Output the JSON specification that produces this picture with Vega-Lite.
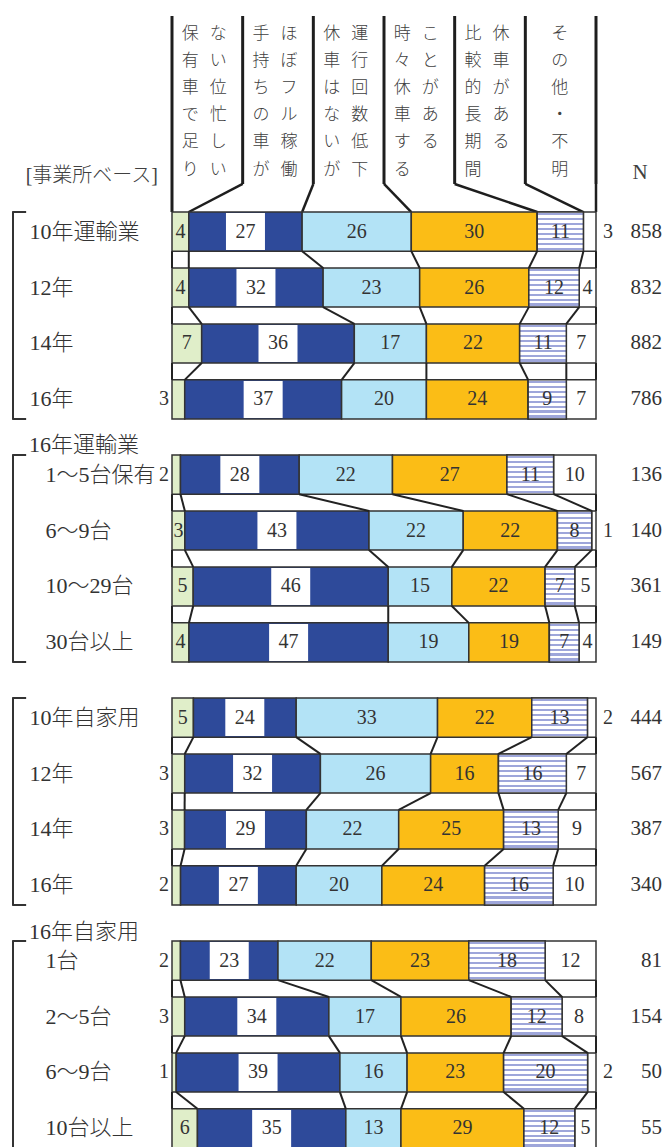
{
  "$schema": "https://vega.github.io/schema/vega-lite/v6.json",
  "background": "white",
  "padding": {"left": 11, "top": 14, "right": 4, "bottom": 0},
  "bounds": "flush",
  "spacing": 36,
  "config": {"view": {"stroke": null}, "axis": {"labelFontWeight": 300}, "text": {"fontWeight": 300}},
  "datasets": {
    "bars": [
      {"g":1,"i":1,"row":"10年運輸業","cat":1,"v":4},{"g":1,"i":1,"row":"10年運輸業","cat":2,"v":27},{"g":1,"i":1,"row":"10年運輸業","cat":3,"v":26},{"g":1,"i":1,"row":"10年運輸業","cat":4,"v":30},{"g":1,"i":1,"row":"10年運輸業","cat":5,"v":11},{"g":1,"i":1,"row":"10年運輸業","cat":6,"v":3},
      {"g":1,"i":2,"row":"12年","cat":1,"v":4},{"g":1,"i":2,"row":"12年","cat":2,"v":32},{"g":1,"i":2,"row":"12年","cat":3,"v":23},{"g":1,"i":2,"row":"12年","cat":4,"v":26},{"g":1,"i":2,"row":"12年","cat":5,"v":12},{"g":1,"i":2,"row":"12年","cat":6,"v":4},
      {"g":1,"i":3,"row":"14年","cat":1,"v":7},{"g":1,"i":3,"row":"14年","cat":2,"v":36},{"g":1,"i":3,"row":"14年","cat":3,"v":17},{"g":1,"i":3,"row":"14年","cat":4,"v":22},{"g":1,"i":3,"row":"14年","cat":5,"v":11},{"g":1,"i":3,"row":"14年","cat":6,"v":7},
      {"g":1,"i":4,"row":"16年","cat":1,"v":3},{"g":1,"i":4,"row":"16年","cat":2,"v":37},{"g":1,"i":4,"row":"16年","cat":3,"v":20},{"g":1,"i":4,"row":"16年","cat":4,"v":24},{"g":1,"i":4,"row":"16年","cat":5,"v":9},{"g":1,"i":4,"row":"16年","cat":6,"v":7},
      {"g":2,"i":1,"row":"1～5台保有","cat":1,"v":2},{"g":2,"i":1,"row":"1～5台保有","cat":2,"v":28},{"g":2,"i":1,"row":"1～5台保有","cat":3,"v":22},{"g":2,"i":1,"row":"1～5台保有","cat":4,"v":27},{"g":2,"i":1,"row":"1～5台保有","cat":5,"v":11},{"g":2,"i":1,"row":"1～5台保有","cat":6,"v":10},
      {"g":2,"i":2,"row":"6～9台","cat":1,"v":3},{"g":2,"i":2,"row":"6～9台","cat":2,"v":43},{"g":2,"i":2,"row":"6～9台","cat":3,"v":22},{"g":2,"i":2,"row":"6～9台","cat":4,"v":22},{"g":2,"i":2,"row":"6～9台","cat":5,"v":8},{"g":2,"i":2,"row":"6～9台","cat":6,"v":1},
      {"g":2,"i":3,"row":"10～29台","cat":1,"v":5},{"g":2,"i":3,"row":"10～29台","cat":2,"v":46},{"g":2,"i":3,"row":"10～29台","cat":3,"v":15},{"g":2,"i":3,"row":"10～29台","cat":4,"v":22},{"g":2,"i":3,"row":"10～29台","cat":5,"v":7},{"g":2,"i":3,"row":"10～29台","cat":6,"v":5},
      {"g":2,"i":4,"row":"30台以上","cat":1,"v":4},{"g":2,"i":4,"row":"30台以上","cat":2,"v":47},{"g":2,"i":4,"row":"30台以上","cat":3,"v":19},{"g":2,"i":4,"row":"30台以上","cat":4,"v":19},{"g":2,"i":4,"row":"30台以上","cat":5,"v":7},{"g":2,"i":4,"row":"30台以上","cat":6,"v":4},
      {"g":3,"i":1,"row":"10年自家用","cat":1,"v":5},{"g":3,"i":1,"row":"10年自家用","cat":2,"v":24},{"g":3,"i":1,"row":"10年自家用","cat":3,"v":33},{"g":3,"i":1,"row":"10年自家用","cat":4,"v":22},{"g":3,"i":1,"row":"10年自家用","cat":5,"v":13},{"g":3,"i":1,"row":"10年自家用","cat":6,"v":2},
      {"g":3,"i":2,"row":"12年","cat":1,"v":3},{"g":3,"i":2,"row":"12年","cat":2,"v":32},{"g":3,"i":2,"row":"12年","cat":3,"v":26},{"g":3,"i":2,"row":"12年","cat":4,"v":16},{"g":3,"i":2,"row":"12年","cat":5,"v":16},{"g":3,"i":2,"row":"12年","cat":6,"v":7},
      {"g":3,"i":3,"row":"14年","cat":1,"v":3},{"g":3,"i":3,"row":"14年","cat":2,"v":29},{"g":3,"i":3,"row":"14年","cat":3,"v":22},{"g":3,"i":3,"row":"14年","cat":4,"v":25},{"g":3,"i":3,"row":"14年","cat":5,"v":13},{"g":3,"i":3,"row":"14年","cat":6,"v":9},
      {"g":3,"i":4,"row":"16年","cat":1,"v":2},{"g":3,"i":4,"row":"16年","cat":2,"v":27},{"g":3,"i":4,"row":"16年","cat":3,"v":20},{"g":3,"i":4,"row":"16年","cat":4,"v":24},{"g":3,"i":4,"row":"16年","cat":5,"v":16},{"g":3,"i":4,"row":"16年","cat":6,"v":10},
      {"g":4,"i":1,"row":"1台","cat":1,"v":2},{"g":4,"i":1,"row":"1台","cat":2,"v":23},{"g":4,"i":1,"row":"1台","cat":3,"v":22},{"g":4,"i":1,"row":"1台","cat":4,"v":23},{"g":4,"i":1,"row":"1台","cat":5,"v":18},{"g":4,"i":1,"row":"1台","cat":6,"v":12},
      {"g":4,"i":2,"row":"2～5台","cat":1,"v":3},{"g":4,"i":2,"row":"2～5台","cat":2,"v":34},{"g":4,"i":2,"row":"2～5台","cat":3,"v":17},{"g":4,"i":2,"row":"2～5台","cat":4,"v":26},{"g":4,"i":2,"row":"2～5台","cat":5,"v":12},{"g":4,"i":2,"row":"2～5台","cat":6,"v":8},
      {"g":4,"i":3,"row":"6～9台","cat":1,"v":1},{"g":4,"i":3,"row":"6～9台","cat":2,"v":39},{"g":4,"i":3,"row":"6～9台","cat":3,"v":16},{"g":4,"i":3,"row":"6～9台","cat":4,"v":23},{"g":4,"i":3,"row":"6～9台","cat":5,"v":20},{"g":4,"i":3,"row":"6～9台","cat":6,"v":2},
      {"g":4,"i":4,"row":"10台以上","cat":1,"v":6},{"g":4,"i":4,"row":"10台以上","cat":2,"v":35},{"g":4,"i":4,"row":"10台以上","cat":3,"v":13},{"g":4,"i":4,"row":"10台以上","cat":4,"v":29},{"g":4,"i":4,"row":"10台以上","cat":5,"v":12},{"g":4,"i":4,"row":"10台以上","cat":6,"v":5}
    ],
    "totals": [
      {"g":1,"i":1,"row":"10年運輸業","n":858},{"g":1,"i":2,"row":"12年","n":832},{"g":1,"i":3,"row":"14年","n":882},{"g":1,"i":4,"row":"16年","n":786},
      {"g":2,"i":1,"row":"1～5台保有","n":136},{"g":2,"i":2,"row":"6～9台","n":140},{"g":2,"i":3,"row":"10～29台","n":361},{"g":2,"i":4,"row":"30台以上","n":149},
      {"g":3,"i":1,"row":"10年自家用","n":444},{"g":3,"i":2,"row":"12年","n":567},{"g":3,"i":3,"row":"14年","n":387},{"g":3,"i":4,"row":"16年","n":340},
      {"g":4,"i":1,"row":"1台","n":81},{"g":4,"i":2,"row":"2～5台","n":154},{"g":4,"i":3,"row":"6～9台","n":50},{"g":4,"i":4,"row":"10台以上","n":55}
    ],
    "cats": [
      {"cat":1,"L":"保\n有\n車\nで\n足\nり","R":"な\nい\n位\n忙\nし\nい"},
      {"cat":2,"L":"手\n持\nち\nの\n車\nが","R":"ほ\nぼ\nフ\nル\n稼\n働"},
      {"cat":3,"L":"休\n車\nは\nな\nい\nが","R":"運\n行\n回\n数\n低\n下"},
      {"cat":4,"L":"時\n々\n休\n車\nす\nる","R":"こ\nと\nが\nあ\nる"},
      {"cat":5,"L":"比\n較\n的\n長\n期\n間","R":"休\n車\nが\nあ\nる"},
      {"cat":6,"C":"そ\nの\n他\n・\n不\n明"}
    ],
    "groupLabels": [
      {"g":2,"label":"16年運輸業","row":"1～5台保有"},
      {"g":4,"label":"16年自家用","row":"1台"}
    ]
  },
  "vconcat": [
    {
      "width": 424, "height": 160,
      "resolve": {"scale": {"x": "independent"}},
      "layer": [
        {
          "data": {"name": "bars"},
          "transform": [
            {"filter": "datum.g == 1 && datum.i == 1"},
            {"window": [{"op": "cume_dist", "as": "colEnd"}], "sort": [{"field": "cat"}]}
          ],
          "mark": {"type": "rule", "color": "#1e1e1e", "strokeWidth": 3},
          "encoding": {
            "x": {"field": "colEnd", "type": "quantitative", "scale": {"domain": [0, 1]}, "axis": null},
            "y": {"datum": 1, "type": "quantitative", "scale": {"domain": [0.1837, 1], "nice": false, "zero": false}, "axis": null},
            "y2": {"datum": 0.143}
          }
        },
        {
          "data": {"name": "bars"},
          "transform": [
            {"filter": "datum.g == 1 && datum.i == 1"},
            {"stack": "v", "groupby": ["i"], "sort": [{"field": "cat"}], "offset": "normalize", "as": ["s0", "s1"]},
            {"window": [{"op": "cume_dist", "as": "colEnd"}], "sort": [{"field": "cat"}]}
          ],
          "mark": {"type": "rule", "color": "#1e1e1e", "strokeWidth": 2.5},
          "encoding": {
            "x": {"field": "colEnd", "type": "quantitative", "scale": {"domain": [0, 1]}, "axis": null},
            "x2": {"field": "s1"},
            "y": {"datum": 0.143, "type": "quantitative", "scale": {"domain": [0.1837, 1], "nice": false, "zero": false}, "axis": null},
            "y2": {"datum": 0}
          }
        },
        {
          "data": {"name": "bars"},
          "transform": [{"filter": "datum.g == 1 && datum.i == 1 && datum.cat == 1"}],
          "mark": {"type": "rule", "color": "#1e1e1e", "strokeWidth": 3},
          "encoding": {
            "x": {"datum": 0, "type": "quantitative", "scale": {"domain": [0, 1]}, "axis": null},
            "y": {"datum": 1, "type": "quantitative", "scale": {"domain": [0.1837, 1], "nice": false, "zero": false}, "axis": null},
            "y2": {"datum": 0}
          }
        },
        {
          "data": {"name": "cats"},
          "transform": [{"filter": "datum.L != null"}],
          "mark": {"type": "text", "lineBreak": "\n", "lineHeight": 27.2, "baseline": "top", "align": "center", "dx": -17, "font": "Noto Sans CJK JP", "fontSize": 17, "color": "#404040"},
          "encoding": {
            "x": {"field": "cat", "type": "ordinal", "scale": {"domain": [1, 2, 3, 4, 5, 6], "paddingInner": 0, "paddingOuter": 0}, "axis": null},
            "y": {"datum": 0.9515, "type": "quantitative", "scale": {"domain": [0.1837, 1], "nice": false, "zero": false}, "axis": null},
            "text": {"field": "L"}
          }
        },
        {
          "data": {"name": "cats"},
          "transform": [{"filter": "datum.R != null"}],
          "mark": {"type": "text", "lineBreak": "\n", "lineHeight": 27.2, "baseline": "top", "align": "center", "dx": 11, "font": "Noto Sans CJK JP", "fontSize": 17, "color": "#404040"},
          "encoding": {
            "x": {"field": "cat", "type": "ordinal", "scale": {"domain": [1, 2, 3, 4, 5, 6], "paddingInner": 0, "paddingOuter": 0}, "axis": null},
            "y": {"datum": 0.9515, "type": "quantitative", "scale": {"domain": [0.1837, 1], "nice": false, "zero": false}, "axis": null},
            "text": {"field": "R"}
          }
        },
        {
          "data": {"name": "cats"},
          "transform": [{"filter": "datum.C != null"}],
          "mark": {"type": "text", "lineBreak": "\n", "lineHeight": 27.2, "baseline": "top", "align": "center", "dx": -1, "font": "Noto Sans CJK JP", "fontSize": 17, "color": "#404040"},
          "encoding": {
            "x": {"field": "cat", "type": "ordinal", "scale": {"domain": [1, 2, 3, 4, 5, 6], "paddingInner": 0, "paddingOuter": 0}, "axis": null},
            "y": {"datum": 0.9515, "type": "quantitative", "scale": {"domain": [0.1837, 1], "nice": false, "zero": false}, "axis": null},
            "text": {"field": "C"}
          }
        },
        {
          "data": {"values": [{"label": "[事業所ベース]"}]},
          "mark": {"type": "text", "align": "right", "baseline": "middle", "dx": -14, "font": "Liberation Serif, Noto Sans CJK JP", "fontSize": 20, "color": "#404040"},
          "encoding": {
            "x": {"datum": 0, "type": "quantitative", "scale": {"domain": [0, 1]}, "axis": null},
            "y": {"datum": 0.184, "type": "quantitative", "scale": {"domain": [0.1837, 1], "nice": false, "zero": false}, "axis": null},
            "text": {"field": "label"}
          }
        },
        {
          "data": {"values": [{"label": "N"}]},
          "mark": {"type": "text", "align": "center", "baseline": "middle", "dx": 44, "font": "Liberation Serif", "fontSize": 21, "color": "#404040"},
          "encoding": {
            "x": {"datum": 1, "type": "quantitative", "scale": {"domain": [0, 1]}, "axis": null},
            "y": {"datum": 0.199, "type": "quantitative", "scale": {"domain": [0.1837, 1], "nice": false, "zero": false}, "axis": null},
            "text": {"field": "label"}
          }
        }
      ]
    },
    {
      "width": 424, "height": 207,
      "layer": [
        {"data": {"name": "bars"}, "transform": [{"filter": "datum.g == 1"}, {"stack": "v", "groupby": ["i"], "sort": [{"field": "cat"}], "offset": "normalize", "as": ["s0", "s1"]}],
         "mark": {"type": "bar", "stroke": "#333", "strokeWidth": 1.5},
         "encoding": {"x": {"field": "s0", "type": "quantitative", "scale": {"domain": [0, 1]}, "axis": null}, "x2": {"field": "s1"},
           "y": {"field": "row", "type": "nominal", "scale": {"domain": ["10年運輸業", "12年", "14年", "16年"], "paddingInner": 0.3, "paddingOuter": 0}, "axis": {"title": null, "domain": false, "ticks": false, "tickSize": 0, "labelAlign": "left", "labelBaseline": "middle", "labelPadding": 143, "labelFont": "Liberation Serif, Noto Sans CJK JP", "labelFontSize": 22, "labelColor": "#333", "labelLimit": 0, "labelOverlap": false}},
           "color": {"field": "cat", "type": "nominal", "scale": {"domain": [1, 2, 3, 4, 5, 6], "range": ["#e0eec9", "#2e4a9a", "#b3e3f6", "#fbbd16", "#ffffff", "#ffffff"]}, "legend": null}}},
        {"data": {"name": "bars"}, "transform": [{"filter": "datum.g == 1"}, {"stack": "v", "groupby": ["i"], "sort": [{"field": "cat"}], "offset": "normalize", "as": ["s0", "s1"]}, {"filter": "datum.cat == 5"}],
         "mark": {"type": "bar", "stroke": "#333", "strokeWidth": 1.5, "fill": {"gradient": "linear", "x1": 0, "y1": 0, "x2": 0, "y2": 1, "stops": [{"offset": 0, "color": "#ffffff"}, {"offset": 0.032, "color": "#ffffff"}, {"offset": 0.032, "color": "#9ea6da"}, {"offset": 0.088, "color": "#9ea6da"}, {"offset": 0.088, "color": "#ffffff"}, {"offset": 0.157, "color": "#ffffff"}, {"offset": 0.157, "color": "#9ea6da"}, {"offset": 0.213, "color": "#9ea6da"}, {"offset": 0.213, "color": "#ffffff"}, {"offset": 0.282, "color": "#ffffff"}, {"offset": 0.282, "color": "#9ea6da"}, {"offset": 0.338, "color": "#9ea6da"}, {"offset": 0.338, "color": "#ffffff"}, {"offset": 0.407, "color": "#ffffff"}, {"offset": 0.407, "color": "#9ea6da"}, {"offset": 0.463, "color": "#9ea6da"}, {"offset": 0.463, "color": "#ffffff"}, {"offset": 0.532, "color": "#ffffff"}, {"offset": 0.532, "color": "#9ea6da"}, {"offset": 0.588, "color": "#9ea6da"}, {"offset": 0.588, "color": "#ffffff"}, {"offset": 0.657, "color": "#ffffff"}, {"offset": 0.657, "color": "#9ea6da"}, {"offset": 0.713, "color": "#9ea6da"}, {"offset": 0.713, "color": "#ffffff"}, {"offset": 0.782, "color": "#ffffff"}, {"offset": 0.782, "color": "#9ea6da"}, {"offset": 0.838, "color": "#9ea6da"}, {"offset": 0.838, "color": "#ffffff"}, {"offset": 0.907, "color": "#ffffff"}, {"offset": 0.907, "color": "#9ea6da"}, {"offset": 0.963, "color": "#9ea6da"}, {"offset": 0.963, "color": "#ffffff"}, {"offset": 1, "color": "#ffffff"}]}},
         "encoding": {"x": {"field": "s0", "type": "quantitative", "scale": {"domain": [0, 1]}, "axis": null}, "x2": {"field": "s1"},
           "y": {"field": "row", "type": "nominal", "scale": {"domain": ["10年運輸業", "12年", "14年", "16年"], "paddingInner": 0.3, "paddingOuter": 0}, "axis": {"title": null, "domain": false, "ticks": false, "tickSize": 0, "labelAlign": "left", "labelBaseline": "middle", "labelPadding": 143, "labelFont": "Liberation Serif, Noto Sans CJK JP", "labelFontSize": 22, "labelColor": "#333", "labelLimit": 0, "labelOverlap": false}}}},
        {"data": {"name": "bars"}, "transform": [{"filter": "datum.g == 1"}],
         "mark": {"type": "tick", "thickness": 39, "size": 37, "color": "#ffffff"},
         "encoding": {"x": {"field": "v", "type": "quantitative", "stack": "normalize", "bandPosition": 0.5, "scale": {"domain": [0, 1]}, "axis": null},
           "y": {"field": "row", "type": "nominal", "scale": {"domain": ["10年運輸業", "12年", "14年", "16年"], "paddingInner": 0.3, "paddingOuter": 0}, "axis": {"title": null, "domain": false, "ticks": false, "tickSize": 0, "labelAlign": "left", "labelBaseline": "middle", "labelPadding": 143, "labelFont": "Liberation Serif, Noto Sans CJK JP", "labelFontSize": 22, "labelColor": "#333", "labelLimit": 0, "labelOverlap": false}},
           "detail": {"field": "cat"}, "order": {"field": "cat"}, "opacity": {"condition": {"test": "datum.cat == 2", "value": 1}, "value": 0}}},
        {"data": {"name": "bars"}, "transform": [{"filter": "datum.g == 1"}],
         "mark": {"type": "text", "baseline": "middle", "align": "center", "font": "Liberation Serif", "fontSize": 20, "color": "#333"},
         "encoding": {"x": {"field": "v", "type": "quantitative", "stack": "normalize", "bandPosition": 0.5, "scale": {"domain": [0, 1]}, "axis": null},
           "y": {"field": "row", "type": "nominal", "scale": {"domain": ["10年運輸業", "12年", "14年", "16年"], "paddingInner": 0.3, "paddingOuter": 0}, "axis": {"title": null, "domain": false, "ticks": false, "tickSize": 0, "labelAlign": "left", "labelBaseline": "middle", "labelPadding": 143, "labelFont": "Liberation Serif, Noto Sans CJK JP", "labelFontSize": 22, "labelColor": "#333", "labelLimit": 0, "labelOverlap": false}},
           "detail": {"field": "cat"}, "order": {"field": "cat"},
           "text": {"condition": {"test": "(datum.cat == 1 && datum.v <= 3 && !(datum.g == 2 && datum.i == 2)) || (datum.cat == 6 && datum.v <= 3)", "value": ""}, "field": "v", "type": "quantitative"}}},
        {"data": {"name": "bars"}, "transform": [{"filter": "datum.g == 1"}, {"stack": "v", "groupby": ["i"], "sort": [{"field": "cat"}], "offset": "normalize", "as": ["s0", "s1"]}, {"window": [{"op": "lead", "field": "s1", "as": "t1"}, {"op": "lead", "field": "row", "as": "rowNext"}], "groupby": ["cat"], "sort": [{"field": "i"}]}, {"filter": "datum.rowNext != null"}],
         "mark": {"type": "rule", "color": "#222", "strokeWidth": 2},
         "encoding": {"x": {"field": "s1", "type": "quantitative", "scale": {"domain": [0, 1]}, "axis": null}, "x2": {"field": "t1"},
           "y": {"field": "row", "type": "nominal", "bandPosition": 1, "scale": {"domain": ["10年運輸業", "12年", "14年", "16年"], "paddingInner": 0.3, "paddingOuter": 0}, "axis": {"title": null, "domain": false, "ticks": false, "tickSize": 0, "labelAlign": "left", "labelBaseline": "middle", "labelPadding": 143, "labelFont": "Liberation Serif, Noto Sans CJK JP", "labelFontSize": 22, "labelColor": "#333", "labelLimit": 0, "labelOverlap": false}},
           "y2": {"field": "rowNext", "bandPosition": 0}}},
        {"data": {"name": "bars"}, "transform": [{"filter": "datum.g == 1"}, {"stack": "v", "groupby": ["i"], "sort": [{"field": "cat"}], "offset": "normalize", "as": ["s0", "s1"]}, {"window": [{"op": "lead", "field": "s0", "as": "t0"}, {"op": "lead", "field": "row", "as": "rowNext"}], "groupby": ["cat"], "sort": [{"field": "i"}]}, {"filter": "datum.rowNext != null && datum.cat == 1"}],
         "mark": {"type": "rule", "color": "#222", "strokeWidth": 2},
         "encoding": {"x": {"field": "s0", "type": "quantitative", "scale": {"domain": [0, 1]}, "axis": null}, "x2": {"field": "t0"},
           "y": {"field": "row", "type": "nominal", "bandPosition": 1, "scale": {"domain": ["10年運輸業", "12年", "14年", "16年"], "paddingInner": 0.3, "paddingOuter": 0}, "axis": {"title": null, "domain": false, "ticks": false, "tickSize": 0, "labelAlign": "left", "labelBaseline": "middle", "labelPadding": 143, "labelFont": "Liberation Serif, Noto Sans CJK JP", "labelFontSize": 22, "labelColor": "#333", "labelLimit": 0, "labelOverlap": false}},
           "y2": {"field": "rowNext", "bandPosition": 0}}},
        {"data": {"name": "bars"}, "transform": [{"filter": "datum.g == 1 && datum.cat == 1 && datum.v <= 3 && !(datum.g == 2 && datum.i == 2)"}],
         "mark": {"type": "text", "baseline": "middle", "align": "right", "dx": -3, "font": "Liberation Serif", "fontSize": 20, "color": "#333"},
         "encoding": {"x": {"datum": 0, "type": "quantitative", "scale": {"domain": [0, 1]}, "axis": null},
           "y": {"field": "row", "type": "nominal", "scale": {"domain": ["10年運輸業", "12年", "14年", "16年"], "paddingInner": 0.3, "paddingOuter": 0}, "axis": {"title": null, "domain": false, "ticks": false, "tickSize": 0, "labelAlign": "left", "labelBaseline": "middle", "labelPadding": 143, "labelFont": "Liberation Serif, Noto Sans CJK JP", "labelFontSize": 22, "labelColor": "#333", "labelLimit": 0, "labelOverlap": false}},
           "text": {"field": "v", "type": "quantitative"}}},
        {"data": {"name": "bars"}, "transform": [{"filter": "datum.g == 1 && datum.cat == 6 && datum.v <= 3"}],
         "mark": {"type": "text", "baseline": "middle", "align": "left", "dx": 7, "font": "Liberation Serif", "fontSize": 20, "color": "#333"},
         "encoding": {"x": {"datum": 1, "type": "quantitative", "scale": {"domain": [0, 1]}, "axis": null},
           "y": {"field": "row", "type": "nominal", "scale": {"domain": ["10年運輸業", "12年", "14年", "16年"], "paddingInner": 0.3, "paddingOuter": 0}, "axis": {"title": null, "domain": false, "ticks": false, "tickSize": 0, "labelAlign": "left", "labelBaseline": "middle", "labelPadding": 143, "labelFont": "Liberation Serif, Noto Sans CJK JP", "labelFontSize": 22, "labelColor": "#333", "labelLimit": 0, "labelOverlap": false}},
           "text": {"field": "v", "type": "quantitative"}}},
        {"data": {"name": "totals"}, "transform": [{"filter": "datum.g == 1"}],
         "mark": {"type": "text", "baseline": "middle", "align": "right", "dx": 66, "font": "Liberation Serif", "fontSize": 21, "color": "#333"},
         "encoding": {"x": {"datum": 1, "type": "quantitative", "scale": {"domain": [0, 1]}, "axis": null},
           "y": {"field": "row", "type": "nominal", "scale": {"domain": ["10年運輸業", "12年", "14年", "16年"], "paddingInner": 0.3, "paddingOuter": 0}, "axis": {"title": null, "domain": false, "ticks": false, "tickSize": 0, "labelAlign": "left", "labelBaseline": "middle", "labelPadding": 143, "labelFont": "Liberation Serif, Noto Sans CJK JP", "labelFontSize": 22, "labelColor": "#333", "labelLimit": 0, "labelOverlap": false}},
           "text": {"field": "n", "type": "quantitative"}}},
        {"data": {"name": "totals"}, "transform": [{"filter": "datum.g == 1 && datum.i == 1"}],
         "mark": {"type": "rule", "color": "#333", "strokeWidth": 2},
         "encoding": {"x": {"datum": -0.375, "type": "quantitative", "scale": {"domain": [0, 1]}, "axis": null}}},
        {"data": {"name": "totals"}, "transform": [{"filter": "datum.g == 1 && datum.i == 1"}],
         "mark": {"type": "rule", "color": "#333", "strokeWidth": 2},
         "encoding": {"x": {"datum": -0.377, "type": "quantitative", "scale": {"domain": [0, 1]}, "axis": null}, "x2": {"datum": -0.344},
           "y": {"field": "row", "type": "nominal", "bandPosition": 0, "scale": {"domain": ["10年運輸業", "12年", "14年", "16年"], "paddingInner": 0.3, "paddingOuter": 0}, "axis": {"title": null, "domain": false, "ticks": false, "tickSize": 0, "labelAlign": "left", "labelBaseline": "middle", "labelPadding": 143, "labelFont": "Liberation Serif, Noto Sans CJK JP", "labelFontSize": 22, "labelColor": "#333", "labelLimit": 0, "labelOverlap": false}}}},
        {"data": {"name": "totals"}, "transform": [{"filter": "datum.g == 1 && datum.i == 4"}],
         "mark": {"type": "rule", "color": "#333", "strokeWidth": 2},
         "encoding": {"x": {"datum": -0.377, "type": "quantitative", "scale": {"domain": [0, 1]}, "axis": null}, "x2": {"datum": -0.344},
           "y": {"field": "row", "type": "nominal", "bandPosition": 1, "scale": {"domain": ["10年運輸業", "12年", "14年", "16年"], "paddingInner": 0.3, "paddingOuter": 0}, "axis": {"title": null, "domain": false, "ticks": false, "tickSize": 0, "labelAlign": "left", "labelBaseline": "middle", "labelPadding": 143, "labelFont": "Liberation Serif, Noto Sans CJK JP", "labelFontSize": 22, "labelColor": "#333", "labelLimit": 0, "labelOverlap": false}}}}
      ]
    },
    {
      "width": 424, "height": 207,
      "layer": [
        {"data": {"name": "bars"}, "transform": [{"filter": "datum.g == 2"}, {"stack": "v", "groupby": ["i"], "sort": [{"field": "cat"}], "offset": "normalize", "as": ["s0", "s1"]}],
         "mark": {"type": "bar", "stroke": "#333", "strokeWidth": 1.5},
         "encoding": {"x": {"field": "s0", "type": "quantitative", "scale": {"domain": [0, 1]}, "axis": null}, "x2": {"field": "s1"},
           "y": {"field": "row", "type": "nominal", "scale": {"domain": ["1～5台保有", "6～9台", "10～29台", "30台以上"], "paddingInner": 0.3, "paddingOuter": 0}, "axis": {"title": null, "domain": false, "ticks": false, "tickSize": 0, "labelAlign": "left", "labelBaseline": "middle", "labelPadding": 127, "labelFont": "Liberation Serif, Noto Sans CJK JP", "labelFontSize": 22, "labelColor": "#333", "labelLimit": 0, "labelOverlap": false}},
           "color": {"field": "cat", "type": "nominal", "scale": {"domain": [1, 2, 3, 4, 5, 6], "range": ["#e0eec9", "#2e4a9a", "#b3e3f6", "#fbbd16", "#ffffff", "#ffffff"]}, "legend": null}}},
        {"data": {"name": "bars"}, "transform": [{"filter": "datum.g == 2"}, {"stack": "v", "groupby": ["i"], "sort": [{"field": "cat"}], "offset": "normalize", "as": ["s0", "s1"]}, {"filter": "datum.cat == 5"}],
         "mark": {"type": "bar", "stroke": "#333", "strokeWidth": 1.5, "fill": {"gradient": "linear", "x1": 0, "y1": 0, "x2": 0, "y2": 1, "stops": [{"offset": 0, "color": "#ffffff"}, {"offset": 0.032, "color": "#ffffff"}, {"offset": 0.032, "color": "#9ea6da"}, {"offset": 0.088, "color": "#9ea6da"}, {"offset": 0.088, "color": "#ffffff"}, {"offset": 0.157, "color": "#ffffff"}, {"offset": 0.157, "color": "#9ea6da"}, {"offset": 0.213, "color": "#9ea6da"}, {"offset": 0.213, "color": "#ffffff"}, {"offset": 0.282, "color": "#ffffff"}, {"offset": 0.282, "color": "#9ea6da"}, {"offset": 0.338, "color": "#9ea6da"}, {"offset": 0.338, "color": "#ffffff"}, {"offset": 0.407, "color": "#ffffff"}, {"offset": 0.407, "color": "#9ea6da"}, {"offset": 0.463, "color": "#9ea6da"}, {"offset": 0.463, "color": "#ffffff"}, {"offset": 0.532, "color": "#ffffff"}, {"offset": 0.532, "color": "#9ea6da"}, {"offset": 0.588, "color": "#9ea6da"}, {"offset": 0.588, "color": "#ffffff"}, {"offset": 0.657, "color": "#ffffff"}, {"offset": 0.657, "color": "#9ea6da"}, {"offset": 0.713, "color": "#9ea6da"}, {"offset": 0.713, "color": "#ffffff"}, {"offset": 0.782, "color": "#ffffff"}, {"offset": 0.782, "color": "#9ea6da"}, {"offset": 0.838, "color": "#9ea6da"}, {"offset": 0.838, "color": "#ffffff"}, {"offset": 0.907, "color": "#ffffff"}, {"offset": 0.907, "color": "#9ea6da"}, {"offset": 0.963, "color": "#9ea6da"}, {"offset": 0.963, "color": "#ffffff"}, {"offset": 1, "color": "#ffffff"}]}},
         "encoding": {"x": {"field": "s0", "type": "quantitative", "scale": {"domain": [0, 1]}, "axis": null}, "x2": {"field": "s1"},
           "y": {"field": "row", "type": "nominal", "scale": {"domain": ["1～5台保有", "6～9台", "10～29台", "30台以上"], "paddingInner": 0.3, "paddingOuter": 0}, "axis": {"title": null, "domain": false, "ticks": false, "tickSize": 0, "labelAlign": "left", "labelBaseline": "middle", "labelPadding": 127, "labelFont": "Liberation Serif, Noto Sans CJK JP", "labelFontSize": 22, "labelColor": "#333", "labelLimit": 0, "labelOverlap": false}}}},
        {"data": {"name": "bars"}, "transform": [{"filter": "datum.g == 2"}],
         "mark": {"type": "tick", "thickness": 39, "size": 37, "color": "#ffffff"},
         "encoding": {"x": {"field": "v", "type": "quantitative", "stack": "normalize", "bandPosition": 0.5, "scale": {"domain": [0, 1]}, "axis": null},
           "y": {"field": "row", "type": "nominal", "scale": {"domain": ["1～5台保有", "6～9台", "10～29台", "30台以上"], "paddingInner": 0.3, "paddingOuter": 0}, "axis": {"title": null, "domain": false, "ticks": false, "tickSize": 0, "labelAlign": "left", "labelBaseline": "middle", "labelPadding": 127, "labelFont": "Liberation Serif, Noto Sans CJK JP", "labelFontSize": 22, "labelColor": "#333", "labelLimit": 0, "labelOverlap": false}},
           "detail": {"field": "cat"}, "order": {"field": "cat"}, "opacity": {"condition": {"test": "datum.cat == 2", "value": 1}, "value": 0}}},
        {"data": {"name": "bars"}, "transform": [{"filter": "datum.g == 2"}],
         "mark": {"type": "text", "baseline": "middle", "align": "center", "font": "Liberation Serif", "fontSize": 20, "color": "#333"},
         "encoding": {"x": {"field": "v", "type": "quantitative", "stack": "normalize", "bandPosition": 0.5, "scale": {"domain": [0, 1]}, "axis": null},
           "y": {"field": "row", "type": "nominal", "scale": {"domain": ["1～5台保有", "6～9台", "10～29台", "30台以上"], "paddingInner": 0.3, "paddingOuter": 0}, "axis": {"title": null, "domain": false, "ticks": false, "tickSize": 0, "labelAlign": "left", "labelBaseline": "middle", "labelPadding": 127, "labelFont": "Liberation Serif, Noto Sans CJK JP", "labelFontSize": 22, "labelColor": "#333", "labelLimit": 0, "labelOverlap": false}},
           "detail": {"field": "cat"}, "order": {"field": "cat"},
           "text": {"condition": {"test": "(datum.cat == 1 && datum.v <= 3 && !(datum.g == 2 && datum.i == 2)) || (datum.cat == 6 && datum.v <= 3)", "value": ""}, "field": "v", "type": "quantitative"}}},
        {"data": {"name": "bars"}, "transform": [{"filter": "datum.g == 2"}, {"stack": "v", "groupby": ["i"], "sort": [{"field": "cat"}], "offset": "normalize", "as": ["s0", "s1"]}, {"window": [{"op": "lead", "field": "s1", "as": "t1"}, {"op": "lead", "field": "row", "as": "rowNext"}], "groupby": ["cat"], "sort": [{"field": "i"}]}, {"filter": "datum.rowNext != null"}],
         "mark": {"type": "rule", "color": "#222", "strokeWidth": 2},
         "encoding": {"x": {"field": "s1", "type": "quantitative", "scale": {"domain": [0, 1]}, "axis": null}, "x2": {"field": "t1"},
           "y": {"field": "row", "type": "nominal", "bandPosition": 1, "scale": {"domain": ["1～5台保有", "6～9台", "10～29台", "30台以上"], "paddingInner": 0.3, "paddingOuter": 0}, "axis": {"title": null, "domain": false, "ticks": false, "tickSize": 0, "labelAlign": "left", "labelBaseline": "middle", "labelPadding": 127, "labelFont": "Liberation Serif, Noto Sans CJK JP", "labelFontSize": 22, "labelColor": "#333", "labelLimit": 0, "labelOverlap": false}},
           "y2": {"field": "rowNext", "bandPosition": 0}}},
        {"data": {"name": "bars"}, "transform": [{"filter": "datum.g == 2"}, {"stack": "v", "groupby": ["i"], "sort": [{"field": "cat"}], "offset": "normalize", "as": ["s0", "s1"]}, {"window": [{"op": "lead", "field": "s0", "as": "t0"}, {"op": "lead", "field": "row", "as": "rowNext"}], "groupby": ["cat"], "sort": [{"field": "i"}]}, {"filter": "datum.rowNext != null && datum.cat == 1"}],
         "mark": {"type": "rule", "color": "#222", "strokeWidth": 2},
         "encoding": {"x": {"field": "s0", "type": "quantitative", "scale": {"domain": [0, 1]}, "axis": null}, "x2": {"field": "t0"},
           "y": {"field": "row", "type": "nominal", "bandPosition": 1, "scale": {"domain": ["1～5台保有", "6～9台", "10～29台", "30台以上"], "paddingInner": 0.3, "paddingOuter": 0}, "axis": {"title": null, "domain": false, "ticks": false, "tickSize": 0, "labelAlign": "left", "labelBaseline": "middle", "labelPadding": 127, "labelFont": "Liberation Serif, Noto Sans CJK JP", "labelFontSize": 22, "labelColor": "#333", "labelLimit": 0, "labelOverlap": false}},
           "y2": {"field": "rowNext", "bandPosition": 0}}},
        {"data": {"name": "bars"}, "transform": [{"filter": "datum.g == 2 && datum.cat == 1 && datum.v <= 3 && !(datum.g == 2 && datum.i == 2)"}],
         "mark": {"type": "text", "baseline": "middle", "align": "right", "dx": -3, "font": "Liberation Serif", "fontSize": 20, "color": "#333"},
         "encoding": {"x": {"datum": 0, "type": "quantitative", "scale": {"domain": [0, 1]}, "axis": null},
           "y": {"field": "row", "type": "nominal", "scale": {"domain": ["1～5台保有", "6～9台", "10～29台", "30台以上"], "paddingInner": 0.3, "paddingOuter": 0}, "axis": {"title": null, "domain": false, "ticks": false, "tickSize": 0, "labelAlign": "left", "labelBaseline": "middle", "labelPadding": 127, "labelFont": "Liberation Serif, Noto Sans CJK JP", "labelFontSize": 22, "labelColor": "#333", "labelLimit": 0, "labelOverlap": false}},
           "text": {"field": "v", "type": "quantitative"}}},
        {"data": {"name": "bars"}, "transform": [{"filter": "datum.g == 2 && datum.cat == 6 && datum.v <= 3"}],
         "mark": {"type": "text", "baseline": "middle", "align": "left", "dx": 7, "font": "Liberation Serif", "fontSize": 20, "color": "#333"},
         "encoding": {"x": {"datum": 1, "type": "quantitative", "scale": {"domain": [0, 1]}, "axis": null},
           "y": {"field": "row", "type": "nominal", "scale": {"domain": ["1～5台保有", "6～9台", "10～29台", "30台以上"], "paddingInner": 0.3, "paddingOuter": 0}, "axis": {"title": null, "domain": false, "ticks": false, "tickSize": 0, "labelAlign": "left", "labelBaseline": "middle", "labelPadding": 127, "labelFont": "Liberation Serif, Noto Sans CJK JP", "labelFontSize": 22, "labelColor": "#333", "labelLimit": 0, "labelOverlap": false}},
           "text": {"field": "v", "type": "quantitative"}}},
        {"data": {"name": "totals"}, "transform": [{"filter": "datum.g == 2"}],
         "mark": {"type": "text", "baseline": "middle", "align": "right", "dx": 66, "font": "Liberation Serif", "fontSize": 21, "color": "#333"},
         "encoding": {"x": {"datum": 1, "type": "quantitative", "scale": {"domain": [0, 1]}, "axis": null},
           "y": {"field": "row", "type": "nominal", "scale": {"domain": ["1～5台保有", "6～9台", "10～29台", "30台以上"], "paddingInner": 0.3, "paddingOuter": 0}, "axis": {"title": null, "domain": false, "ticks": false, "tickSize": 0, "labelAlign": "left", "labelBaseline": "middle", "labelPadding": 127, "labelFont": "Liberation Serif, Noto Sans CJK JP", "labelFontSize": 22, "labelColor": "#333", "labelLimit": 0, "labelOverlap": false}},
           "text": {"field": "n", "type": "quantitative"}}},
        {"data": {"name": "groupLabels"}, "transform": [{"filter": "datum.g == 2"}],
         "mark": {"type": "text", "baseline": "middle", "align": "left", "dx": -143, "dy": -10, "font": "Liberation Serif, Noto Sans CJK JP", "fontSize": 22, "color": "#333"},
         "encoding": {"x": {"datum": 0, "type": "quantitative", "scale": {"domain": [0, 1]}, "axis": null},
           "y": {"field": "row", "type": "nominal", "bandPosition": 0, "scale": {"domain": ["1～5台保有", "6～9台", "10～29台", "30台以上"], "paddingInner": 0.3, "paddingOuter": 0}, "axis": {"title": null, "domain": false, "ticks": false, "tickSize": 0, "labelAlign": "left", "labelBaseline": "middle", "labelPadding": 127, "labelFont": "Liberation Serif, Noto Sans CJK JP", "labelFontSize": 22, "labelColor": "#333", "labelLimit": 0, "labelOverlap": false}},
           "text": {"field": "label"}}},
        {"data": {"name": "totals"}, "transform": [{"filter": "datum.g == 2 && datum.i == 1"}],
         "mark": {"type": "rule", "color": "#333", "strokeWidth": 2},
         "encoding": {"x": {"datum": -0.375, "type": "quantitative", "scale": {"domain": [0, 1]}, "axis": null}}},
        {"data": {"name": "totals"}, "transform": [{"filter": "datum.g == 2 && datum.i == 1"}],
         "mark": {"type": "rule", "color": "#333", "strokeWidth": 2},
         "encoding": {"x": {"datum": -0.377, "type": "quantitative", "scale": {"domain": [0, 1]}, "axis": null}, "x2": {"datum": -0.344},
           "y": {"field": "row", "type": "nominal", "bandPosition": 0, "scale": {"domain": ["1～5台保有", "6～9台", "10～29台", "30台以上"], "paddingInner": 0.3, "paddingOuter": 0}, "axis": {"title": null, "domain": false, "ticks": false, "tickSize": 0, "labelAlign": "left", "labelBaseline": "middle", "labelPadding": 127, "labelFont": "Liberation Serif, Noto Sans CJK JP", "labelFontSize": 22, "labelColor": "#333", "labelLimit": 0, "labelOverlap": false}}}},
        {"data": {"name": "totals"}, "transform": [{"filter": "datum.g == 2 && datum.i == 4"}],
         "mark": {"type": "rule", "color": "#333", "strokeWidth": 2},
         "encoding": {"x": {"datum": -0.377, "type": "quantitative", "scale": {"domain": [0, 1]}, "axis": null}, "x2": {"datum": -0.344},
           "y": {"field": "row", "type": "nominal", "bandPosition": 1, "scale": {"domain": ["1～5台保有", "6～9台", "10～29台", "30台以上"], "paddingInner": 0.3, "paddingOuter": 0}, "axis": {"title": null, "domain": false, "ticks": false, "tickSize": 0, "labelAlign": "left", "labelBaseline": "middle", "labelPadding": 127, "labelFont": "Liberation Serif, Noto Sans CJK JP", "labelFontSize": 22, "labelColor": "#333", "labelLimit": 0, "labelOverlap": false}}}}
      ]
    },
    {
      "width": 424, "height": 207,
      "layer": [
        {"data": {"name": "bars"}, "transform": [{"filter": "datum.g == 3"}, {"stack": "v", "groupby": ["i"], "sort": [{"field": "cat"}], "offset": "normalize", "as": ["s0", "s1"]}],
         "mark": {"type": "bar", "stroke": "#333", "strokeWidth": 1.5},
         "encoding": {"x": {"field": "s0", "type": "quantitative", "scale": {"domain": [0, 1]}, "axis": null}, "x2": {"field": "s1"},
           "y": {"field": "row", "type": "nominal", "scale": {"domain": ["10年自家用", "12年", "14年", "16年"], "paddingInner": 0.3, "paddingOuter": 0}, "axis": {"title": null, "domain": false, "ticks": false, "tickSize": 0, "labelAlign": "left", "labelBaseline": "middle", "labelPadding": 143, "labelFont": "Liberation Serif, Noto Sans CJK JP", "labelFontSize": 22, "labelColor": "#333", "labelLimit": 0, "labelOverlap": false}},
           "color": {"field": "cat", "type": "nominal", "scale": {"domain": [1, 2, 3, 4, 5, 6], "range": ["#e0eec9", "#2e4a9a", "#b3e3f6", "#fbbd16", "#ffffff", "#ffffff"]}, "legend": null}}},
        {"data": {"name": "bars"}, "transform": [{"filter": "datum.g == 3"}, {"stack": "v", "groupby": ["i"], "sort": [{"field": "cat"}], "offset": "normalize", "as": ["s0", "s1"]}, {"filter": "datum.cat == 5"}],
         "mark": {"type": "bar", "stroke": "#333", "strokeWidth": 1.5, "fill": {"gradient": "linear", "x1": 0, "y1": 0, "x2": 0, "y2": 1, "stops": [{"offset": 0, "color": "#ffffff"}, {"offset": 0.032, "color": "#ffffff"}, {"offset": 0.032, "color": "#9ea6da"}, {"offset": 0.088, "color": "#9ea6da"}, {"offset": 0.088, "color": "#ffffff"}, {"offset": 0.157, "color": "#ffffff"}, {"offset": 0.157, "color": "#9ea6da"}, {"offset": 0.213, "color": "#9ea6da"}, {"offset": 0.213, "color": "#ffffff"}, {"offset": 0.282, "color": "#ffffff"}, {"offset": 0.282, "color": "#9ea6da"}, {"offset": 0.338, "color": "#9ea6da"}, {"offset": 0.338, "color": "#ffffff"}, {"offset": 0.407, "color": "#ffffff"}, {"offset": 0.407, "color": "#9ea6da"}, {"offset": 0.463, "color": "#9ea6da"}, {"offset": 0.463, "color": "#ffffff"}, {"offset": 0.532, "color": "#ffffff"}, {"offset": 0.532, "color": "#9ea6da"}, {"offset": 0.588, "color": "#9ea6da"}, {"offset": 0.588, "color": "#ffffff"}, {"offset": 0.657, "color": "#ffffff"}, {"offset": 0.657, "color": "#9ea6da"}, {"offset": 0.713, "color": "#9ea6da"}, {"offset": 0.713, "color": "#ffffff"}, {"offset": 0.782, "color": "#ffffff"}, {"offset": 0.782, "color": "#9ea6da"}, {"offset": 0.838, "color": "#9ea6da"}, {"offset": 0.838, "color": "#ffffff"}, {"offset": 0.907, "color": "#ffffff"}, {"offset": 0.907, "color": "#9ea6da"}, {"offset": 0.963, "color": "#9ea6da"}, {"offset": 0.963, "color": "#ffffff"}, {"offset": 1, "color": "#ffffff"}]}},
         "encoding": {"x": {"field": "s0", "type": "quantitative", "scale": {"domain": [0, 1]}, "axis": null}, "x2": {"field": "s1"},
           "y": {"field": "row", "type": "nominal", "scale": {"domain": ["10年自家用", "12年", "14年", "16年"], "paddingInner": 0.3, "paddingOuter": 0}, "axis": {"title": null, "domain": false, "ticks": false, "tickSize": 0, "labelAlign": "left", "labelBaseline": "middle", "labelPadding": 143, "labelFont": "Liberation Serif, Noto Sans CJK JP", "labelFontSize": 22, "labelColor": "#333", "labelLimit": 0, "labelOverlap": false}}}},
        {"data": {"name": "bars"}, "transform": [{"filter": "datum.g == 3"}],
         "mark": {"type": "tick", "thickness": 39, "size": 37, "color": "#ffffff"},
         "encoding": {"x": {"field": "v", "type": "quantitative", "stack": "normalize", "bandPosition": 0.5, "scale": {"domain": [0, 1]}, "axis": null},
           "y": {"field": "row", "type": "nominal", "scale": {"domain": ["10年自家用", "12年", "14年", "16年"], "paddingInner": 0.3, "paddingOuter": 0}, "axis": {"title": null, "domain": false, "ticks": false, "tickSize": 0, "labelAlign": "left", "labelBaseline": "middle", "labelPadding": 143, "labelFont": "Liberation Serif, Noto Sans CJK JP", "labelFontSize": 22, "labelColor": "#333", "labelLimit": 0, "labelOverlap": false}},
           "detail": {"field": "cat"}, "order": {"field": "cat"}, "opacity": {"condition": {"test": "datum.cat == 2", "value": 1}, "value": 0}}},
        {"data": {"name": "bars"}, "transform": [{"filter": "datum.g == 3"}],
         "mark": {"type": "text", "baseline": "middle", "align": "center", "font": "Liberation Serif", "fontSize": 20, "color": "#333"},
         "encoding": {"x": {"field": "v", "type": "quantitative", "stack": "normalize", "bandPosition": 0.5, "scale": {"domain": [0, 1]}, "axis": null},
           "y": {"field": "row", "type": "nominal", "scale": {"domain": ["10年自家用", "12年", "14年", "16年"], "paddingInner": 0.3, "paddingOuter": 0}, "axis": {"title": null, "domain": false, "ticks": false, "tickSize": 0, "labelAlign": "left", "labelBaseline": "middle", "labelPadding": 143, "labelFont": "Liberation Serif, Noto Sans CJK JP", "labelFontSize": 22, "labelColor": "#333", "labelLimit": 0, "labelOverlap": false}},
           "detail": {"field": "cat"}, "order": {"field": "cat"},
           "text": {"condition": {"test": "(datum.cat == 1 && datum.v <= 3 && !(datum.g == 2 && datum.i == 2)) || (datum.cat == 6 && datum.v <= 3)", "value": ""}, "field": "v", "type": "quantitative"}}},
        {"data": {"name": "bars"}, "transform": [{"filter": "datum.g == 3"}, {"stack": "v", "groupby": ["i"], "sort": [{"field": "cat"}], "offset": "normalize", "as": ["s0", "s1"]}, {"window": [{"op": "lead", "field": "s1", "as": "t1"}, {"op": "lead", "field": "row", "as": "rowNext"}], "groupby": ["cat"], "sort": [{"field": "i"}]}, {"filter": "datum.rowNext != null"}],
         "mark": {"type": "rule", "color": "#222", "strokeWidth": 2},
         "encoding": {"x": {"field": "s1", "type": "quantitative", "scale": {"domain": [0, 1]}, "axis": null}, "x2": {"field": "t1"},
           "y": {"field": "row", "type": "nominal", "bandPosition": 1, "scale": {"domain": ["10年自家用", "12年", "14年", "16年"], "paddingInner": 0.3, "paddingOuter": 0}, "axis": {"title": null, "domain": false, "ticks": false, "tickSize": 0, "labelAlign": "left", "labelBaseline": "middle", "labelPadding": 143, "labelFont": "Liberation Serif, Noto Sans CJK JP", "labelFontSize": 22, "labelColor": "#333", "labelLimit": 0, "labelOverlap": false}},
           "y2": {"field": "rowNext", "bandPosition": 0}}},
        {"data": {"name": "bars"}, "transform": [{"filter": "datum.g == 3"}, {"stack": "v", "groupby": ["i"], "sort": [{"field": "cat"}], "offset": "normalize", "as": ["s0", "s1"]}, {"window": [{"op": "lead", "field": "s0", "as": "t0"}, {"op": "lead", "field": "row", "as": "rowNext"}], "groupby": ["cat"], "sort": [{"field": "i"}]}, {"filter": "datum.rowNext != null && datum.cat == 1"}],
         "mark": {"type": "rule", "color": "#222", "strokeWidth": 2},
         "encoding": {"x": {"field": "s0", "type": "quantitative", "scale": {"domain": [0, 1]}, "axis": null}, "x2": {"field": "t0"},
           "y": {"field": "row", "type": "nominal", "bandPosition": 1, "scale": {"domain": ["10年自家用", "12年", "14年", "16年"], "paddingInner": 0.3, "paddingOuter": 0}, "axis": {"title": null, "domain": false, "ticks": false, "tickSize": 0, "labelAlign": "left", "labelBaseline": "middle", "labelPadding": 143, "labelFont": "Liberation Serif, Noto Sans CJK JP", "labelFontSize": 22, "labelColor": "#333", "labelLimit": 0, "labelOverlap": false}},
           "y2": {"field": "rowNext", "bandPosition": 0}}},
        {"data": {"name": "bars"}, "transform": [{"filter": "datum.g == 3 && datum.cat == 1 && datum.v <= 3 && !(datum.g == 2 && datum.i == 2)"}],
         "mark": {"type": "text", "baseline": "middle", "align": "right", "dx": -3, "font": "Liberation Serif", "fontSize": 20, "color": "#333"},
         "encoding": {"x": {"datum": 0, "type": "quantitative", "scale": {"domain": [0, 1]}, "axis": null},
           "y": {"field": "row", "type": "nominal", "scale": {"domain": ["10年自家用", "12年", "14年", "16年"], "paddingInner": 0.3, "paddingOuter": 0}, "axis": {"title": null, "domain": false, "ticks": false, "tickSize": 0, "labelAlign": "left", "labelBaseline": "middle", "labelPadding": 143, "labelFont": "Liberation Serif, Noto Sans CJK JP", "labelFontSize": 22, "labelColor": "#333", "labelLimit": 0, "labelOverlap": false}},
           "text": {"field": "v", "type": "quantitative"}}},
        {"data": {"name": "bars"}, "transform": [{"filter": "datum.g == 3 && datum.cat == 6 && datum.v <= 3"}],
         "mark": {"type": "text", "baseline": "middle", "align": "left", "dx": 7, "font": "Liberation Serif", "fontSize": 20, "color": "#333"},
         "encoding": {"x": {"datum": 1, "type": "quantitative", "scale": {"domain": [0, 1]}, "axis": null},
           "y": {"field": "row", "type": "nominal", "scale": {"domain": ["10年自家用", "12年", "14年", "16年"], "paddingInner": 0.3, "paddingOuter": 0}, "axis": {"title": null, "domain": false, "ticks": false, "tickSize": 0, "labelAlign": "left", "labelBaseline": "middle", "labelPadding": 143, "labelFont": "Liberation Serif, Noto Sans CJK JP", "labelFontSize": 22, "labelColor": "#333", "labelLimit": 0, "labelOverlap": false}},
           "text": {"field": "v", "type": "quantitative"}}},
        {"data": {"name": "totals"}, "transform": [{"filter": "datum.g == 3"}],
         "mark": {"type": "text", "baseline": "middle", "align": "right", "dx": 66, "font": "Liberation Serif", "fontSize": 21, "color": "#333"},
         "encoding": {"x": {"datum": 1, "type": "quantitative", "scale": {"domain": [0, 1]}, "axis": null},
           "y": {"field": "row", "type": "nominal", "scale": {"domain": ["10年自家用", "12年", "14年", "16年"], "paddingInner": 0.3, "paddingOuter": 0}, "axis": {"title": null, "domain": false, "ticks": false, "tickSize": 0, "labelAlign": "left", "labelBaseline": "middle", "labelPadding": 143, "labelFont": "Liberation Serif, Noto Sans CJK JP", "labelFontSize": 22, "labelColor": "#333", "labelLimit": 0, "labelOverlap": false}},
           "text": {"field": "n", "type": "quantitative"}}},
        {"data": {"name": "totals"}, "transform": [{"filter": "datum.g == 3 && datum.i == 1"}],
         "mark": {"type": "rule", "color": "#333", "strokeWidth": 2},
         "encoding": {"x": {"datum": -0.375, "type": "quantitative", "scale": {"domain": [0, 1]}, "axis": null}}},
        {"data": {"name": "totals"}, "transform": [{"filter": "datum.g == 3 && datum.i == 1"}],
         "mark": {"type": "rule", "color": "#333", "strokeWidth": 2},
         "encoding": {"x": {"datum": -0.377, "type": "quantitative", "scale": {"domain": [0, 1]}, "axis": null}, "x2": {"datum": -0.344},
           "y": {"field": "row", "type": "nominal", "bandPosition": 0, "scale": {"domain": ["10年自家用", "12年", "14年", "16年"], "paddingInner": 0.3, "paddingOuter": 0}, "axis": {"title": null, "domain": false, "ticks": false, "tickSize": 0, "labelAlign": "left", "labelBaseline": "middle", "labelPadding": 143, "labelFont": "Liberation Serif, Noto Sans CJK JP", "labelFontSize": 22, "labelColor": "#333", "labelLimit": 0, "labelOverlap": false}}}},
        {"data": {"name": "totals"}, "transform": [{"filter": "datum.g == 3 && datum.i == 4"}],
         "mark": {"type": "rule", "color": "#333", "strokeWidth": 2},
         "encoding": {"x": {"datum": -0.377, "type": "quantitative", "scale": {"domain": [0, 1]}, "axis": null}, "x2": {"datum": -0.344},
           "y": {"field": "row", "type": "nominal", "bandPosition": 1, "scale": {"domain": ["10年自家用", "12年", "14年", "16年"], "paddingInner": 0.3, "paddingOuter": 0}, "axis": {"title": null, "domain": false, "ticks": false, "tickSize": 0, "labelAlign": "left", "labelBaseline": "middle", "labelPadding": 143, "labelFont": "Liberation Serif, Noto Sans CJK JP", "labelFontSize": 22, "labelColor": "#333", "labelLimit": 0, "labelOverlap": false}}}}
      ]
    },
    {
      "width": 424, "height": 207,
      "layer": [
        {"data": {"name": "bars"}, "transform": [{"filter": "datum.g == 4"}, {"stack": "v", "groupby": ["i"], "sort": [{"field": "cat"}], "offset": "normalize", "as": ["s0", "s1"]}],
         "mark": {"type": "bar", "stroke": "#333", "strokeWidth": 1.5},
         "encoding": {"x": {"field": "s0", "type": "quantitative", "scale": {"domain": [0, 1]}, "axis": null}, "x2": {"field": "s1"},
           "y": {"field": "row", "type": "nominal", "scale": {"domain": ["1台", "2～5台", "6～9台", "10台以上"], "paddingInner": 0.3, "paddingOuter": 0}, "axis": {"title": null, "domain": false, "ticks": false, "tickSize": 0, "labelAlign": "left", "labelBaseline": "middle", "labelPadding": 127, "labelFont": "Liberation Serif, Noto Sans CJK JP", "labelFontSize": 22, "labelColor": "#333", "labelLimit": 0, "labelOverlap": false}},
           "color": {"field": "cat", "type": "nominal", "scale": {"domain": [1, 2, 3, 4, 5, 6], "range": ["#e0eec9", "#2e4a9a", "#b3e3f6", "#fbbd16", "#ffffff", "#ffffff"]}, "legend": null}}},
        {"data": {"name": "bars"}, "transform": [{"filter": "datum.g == 4"}, {"stack": "v", "groupby": ["i"], "sort": [{"field": "cat"}], "offset": "normalize", "as": ["s0", "s1"]}, {"filter": "datum.cat == 5"}],
         "mark": {"type": "bar", "stroke": "#333", "strokeWidth": 1.5, "fill": {"gradient": "linear", "x1": 0, "y1": 0, "x2": 0, "y2": 1, "stops": [{"offset": 0, "color": "#ffffff"}, {"offset": 0.032, "color": "#ffffff"}, {"offset": 0.032, "color": "#9ea6da"}, {"offset": 0.088, "color": "#9ea6da"}, {"offset": 0.088, "color": "#ffffff"}, {"offset": 0.157, "color": "#ffffff"}, {"offset": 0.157, "color": "#9ea6da"}, {"offset": 0.213, "color": "#9ea6da"}, {"offset": 0.213, "color": "#ffffff"}, {"offset": 0.282, "color": "#ffffff"}, {"offset": 0.282, "color": "#9ea6da"}, {"offset": 0.338, "color": "#9ea6da"}, {"offset": 0.338, "color": "#ffffff"}, {"offset": 0.407, "color": "#ffffff"}, {"offset": 0.407, "color": "#9ea6da"}, {"offset": 0.463, "color": "#9ea6da"}, {"offset": 0.463, "color": "#ffffff"}, {"offset": 0.532, "color": "#ffffff"}, {"offset": 0.532, "color": "#9ea6da"}, {"offset": 0.588, "color": "#9ea6da"}, {"offset": 0.588, "color": "#ffffff"}, {"offset": 0.657, "color": "#ffffff"}, {"offset": 0.657, "color": "#9ea6da"}, {"offset": 0.713, "color": "#9ea6da"}, {"offset": 0.713, "color": "#ffffff"}, {"offset": 0.782, "color": "#ffffff"}, {"offset": 0.782, "color": "#9ea6da"}, {"offset": 0.838, "color": "#9ea6da"}, {"offset": 0.838, "color": "#ffffff"}, {"offset": 0.907, "color": "#ffffff"}, {"offset": 0.907, "color": "#9ea6da"}, {"offset": 0.963, "color": "#9ea6da"}, {"offset": 0.963, "color": "#ffffff"}, {"offset": 1, "color": "#ffffff"}]}},
         "encoding": {"x": {"field": "s0", "type": "quantitative", "scale": {"domain": [0, 1]}, "axis": null}, "x2": {"field": "s1"},
           "y": {"field": "row", "type": "nominal", "scale": {"domain": ["1台", "2～5台", "6～9台", "10台以上"], "paddingInner": 0.3, "paddingOuter": 0}, "axis": {"title": null, "domain": false, "ticks": false, "tickSize": 0, "labelAlign": "left", "labelBaseline": "middle", "labelPadding": 127, "labelFont": "Liberation Serif, Noto Sans CJK JP", "labelFontSize": 22, "labelColor": "#333", "labelLimit": 0, "labelOverlap": false}}}},
        {"data": {"name": "bars"}, "transform": [{"filter": "datum.g == 4"}],
         "mark": {"type": "tick", "thickness": 39, "size": 37, "color": "#ffffff"},
         "encoding": {"x": {"field": "v", "type": "quantitative", "stack": "normalize", "bandPosition": 0.5, "scale": {"domain": [0, 1]}, "axis": null},
           "y": {"field": "row", "type": "nominal", "scale": {"domain": ["1台", "2～5台", "6～9台", "10台以上"], "paddingInner": 0.3, "paddingOuter": 0}, "axis": {"title": null, "domain": false, "ticks": false, "tickSize": 0, "labelAlign": "left", "labelBaseline": "middle", "labelPadding": 127, "labelFont": "Liberation Serif, Noto Sans CJK JP", "labelFontSize": 22, "labelColor": "#333", "labelLimit": 0, "labelOverlap": false}},
           "detail": {"field": "cat"}, "order": {"field": "cat"}, "opacity": {"condition": {"test": "datum.cat == 2", "value": 1}, "value": 0}}},
        {"data": {"name": "bars"}, "transform": [{"filter": "datum.g == 4"}],
         "mark": {"type": "text", "baseline": "middle", "align": "center", "font": "Liberation Serif", "fontSize": 20, "color": "#333"},
         "encoding": {"x": {"field": "v", "type": "quantitative", "stack": "normalize", "bandPosition": 0.5, "scale": {"domain": [0, 1]}, "axis": null},
           "y": {"field": "row", "type": "nominal", "scale": {"domain": ["1台", "2～5台", "6～9台", "10台以上"], "paddingInner": 0.3, "paddingOuter": 0}, "axis": {"title": null, "domain": false, "ticks": false, "tickSize": 0, "labelAlign": "left", "labelBaseline": "middle", "labelPadding": 127, "labelFont": "Liberation Serif, Noto Sans CJK JP", "labelFontSize": 22, "labelColor": "#333", "labelLimit": 0, "labelOverlap": false}},
           "detail": {"field": "cat"}, "order": {"field": "cat"},
           "text": {"condition": {"test": "(datum.cat == 1 && datum.v <= 3 && !(datum.g == 2 && datum.i == 2)) || (datum.cat == 6 && datum.v <= 3)", "value": ""}, "field": "v", "type": "quantitative"}}},
        {"data": {"name": "bars"}, "transform": [{"filter": "datum.g == 4"}, {"stack": "v", "groupby": ["i"], "sort": [{"field": "cat"}], "offset": "normalize", "as": ["s0", "s1"]}, {"window": [{"op": "lead", "field": "s1", "as": "t1"}, {"op": "lead", "field": "row", "as": "rowNext"}], "groupby": ["cat"], "sort": [{"field": "i"}]}, {"filter": "datum.rowNext != null"}],
         "mark": {"type": "rule", "color": "#222", "strokeWidth": 2},
         "encoding": {"x": {"field": "s1", "type": "quantitative", "scale": {"domain": [0, 1]}, "axis": null}, "x2": {"field": "t1"},
           "y": {"field": "row", "type": "nominal", "bandPosition": 1, "scale": {"domain": ["1台", "2～5台", "6～9台", "10台以上"], "paddingInner": 0.3, "paddingOuter": 0}, "axis": {"title": null, "domain": false, "ticks": false, "tickSize": 0, "labelAlign": "left", "labelBaseline": "middle", "labelPadding": 127, "labelFont": "Liberation Serif, Noto Sans CJK JP", "labelFontSize": 22, "labelColor": "#333", "labelLimit": 0, "labelOverlap": false}},
           "y2": {"field": "rowNext", "bandPosition": 0}}},
        {"data": {"name": "bars"}, "transform": [{"filter": "datum.g == 4"}, {"stack": "v", "groupby": ["i"], "sort": [{"field": "cat"}], "offset": "normalize", "as": ["s0", "s1"]}, {"window": [{"op": "lead", "field": "s0", "as": "t0"}, {"op": "lead", "field": "row", "as": "rowNext"}], "groupby": ["cat"], "sort": [{"field": "i"}]}, {"filter": "datum.rowNext != null && datum.cat == 1"}],
         "mark": {"type": "rule", "color": "#222", "strokeWidth": 2},
         "encoding": {"x": {"field": "s0", "type": "quantitative", "scale": {"domain": [0, 1]}, "axis": null}, "x2": {"field": "t0"},
           "y": {"field": "row", "type": "nominal", "bandPosition": 1, "scale": {"domain": ["1台", "2～5台", "6～9台", "10台以上"], "paddingInner": 0.3, "paddingOuter": 0}, "axis": {"title": null, "domain": false, "ticks": false, "tickSize": 0, "labelAlign": "left", "labelBaseline": "middle", "labelPadding": 127, "labelFont": "Liberation Serif, Noto Sans CJK JP", "labelFontSize": 22, "labelColor": "#333", "labelLimit": 0, "labelOverlap": false}},
           "y2": {"field": "rowNext", "bandPosition": 0}}},
        {"data": {"name": "bars"}, "transform": [{"filter": "datum.g == 4 && datum.cat == 1 && datum.v <= 3 && !(datum.g == 2 && datum.i == 2)"}],
         "mark": {"type": "text", "baseline": "middle", "align": "right", "dx": -3, "font": "Liberation Serif", "fontSize": 20, "color": "#333"},
         "encoding": {"x": {"datum": 0, "type": "quantitative", "scale": {"domain": [0, 1]}, "axis": null},
           "y": {"field": "row", "type": "nominal", "scale": {"domain": ["1台", "2～5台", "6～9台", "10台以上"], "paddingInner": 0.3, "paddingOuter": 0}, "axis": {"title": null, "domain": false, "ticks": false, "tickSize": 0, "labelAlign": "left", "labelBaseline": "middle", "labelPadding": 127, "labelFont": "Liberation Serif, Noto Sans CJK JP", "labelFontSize": 22, "labelColor": "#333", "labelLimit": 0, "labelOverlap": false}},
           "text": {"field": "v", "type": "quantitative"}}},
        {"data": {"name": "bars"}, "transform": [{"filter": "datum.g == 4 && datum.cat == 6 && datum.v <= 3"}],
         "mark": {"type": "text", "baseline": "middle", "align": "left", "dx": 7, "font": "Liberation Serif", "fontSize": 20, "color": "#333"},
         "encoding": {"x": {"datum": 1, "type": "quantitative", "scale": {"domain": [0, 1]}, "axis": null},
           "y": {"field": "row", "type": "nominal", "scale": {"domain": ["1台", "2～5台", "6～9台", "10台以上"], "paddingInner": 0.3, "paddingOuter": 0}, "axis": {"title": null, "domain": false, "ticks": false, "tickSize": 0, "labelAlign": "left", "labelBaseline": "middle", "labelPadding": 127, "labelFont": "Liberation Serif, Noto Sans CJK JP", "labelFontSize": 22, "labelColor": "#333", "labelLimit": 0, "labelOverlap": false}},
           "text": {"field": "v", "type": "quantitative"}}},
        {"data": {"name": "totals"}, "transform": [{"filter": "datum.g == 4"}],
         "mark": {"type": "text", "baseline": "middle", "align": "right", "dx": 66, "font": "Liberation Serif", "fontSize": 21, "color": "#333"},
         "encoding": {"x": {"datum": 1, "type": "quantitative", "scale": {"domain": [0, 1]}, "axis": null},
           "y": {"field": "row", "type": "nominal", "scale": {"domain": ["1台", "2～5台", "6～9台", "10台以上"], "paddingInner": 0.3, "paddingOuter": 0}, "axis": {"title": null, "domain": false, "ticks": false, "tickSize": 0, "labelAlign": "left", "labelBaseline": "middle", "labelPadding": 127, "labelFont": "Liberation Serif, Noto Sans CJK JP", "labelFontSize": 22, "labelColor": "#333", "labelLimit": 0, "labelOverlap": false}},
           "text": {"field": "n", "type": "quantitative"}}},
        {"data": {"name": "groupLabels"}, "transform": [{"filter": "datum.g == 4"}],
         "mark": {"type": "text", "baseline": "middle", "align": "left", "dx": -143, "dy": -9, "font": "Liberation Serif, Noto Sans CJK JP", "fontSize": 22, "color": "#333"},
         "encoding": {"x": {"datum": 0, "type": "quantitative", "scale": {"domain": [0, 1]}, "axis": null},
           "y": {"field": "row", "type": "nominal", "bandPosition": 0, "scale": {"domain": ["1台", "2～5台", "6～9台", "10台以上"], "paddingInner": 0.3, "paddingOuter": 0}, "axis": {"title": null, "domain": false, "ticks": false, "tickSize": 0, "labelAlign": "left", "labelBaseline": "middle", "labelPadding": 127, "labelFont": "Liberation Serif, Noto Sans CJK JP", "labelFontSize": 22, "labelColor": "#333", "labelLimit": 0, "labelOverlap": false}},
           "text": {"field": "label"}}},
        {"data": {"name": "totals"}, "transform": [{"filter": "datum.g == 4 && datum.i == 1"}],
         "mark": {"type": "rule", "color": "#333", "strokeWidth": 2},
         "encoding": {"x": {"datum": -0.375, "type": "quantitative", "scale": {"domain": [0, 1]}, "axis": null}}},
        {"data": {"name": "totals"}, "transform": [{"filter": "datum.g == 4 && datum.i == 1"}],
         "mark": {"type": "rule", "color": "#333", "strokeWidth": 2},
         "encoding": {"x": {"datum": -0.377, "type": "quantitative", "scale": {"domain": [0, 1]}, "axis": null}, "x2": {"datum": -0.344},
           "y": {"field": "row", "type": "nominal", "bandPosition": 0, "scale": {"domain": ["1台", "2～5台", "6～9台", "10台以上"], "paddingInner": 0.3, "paddingOuter": 0}, "axis": {"title": null, "domain": false, "ticks": false, "tickSize": 0, "labelAlign": "left", "labelBaseline": "middle", "labelPadding": 127, "labelFont": "Liberation Serif, Noto Sans CJK JP", "labelFontSize": 22, "labelColor": "#333", "labelLimit": 0, "labelOverlap": false}}}}
      ]
    }
  ]
}
